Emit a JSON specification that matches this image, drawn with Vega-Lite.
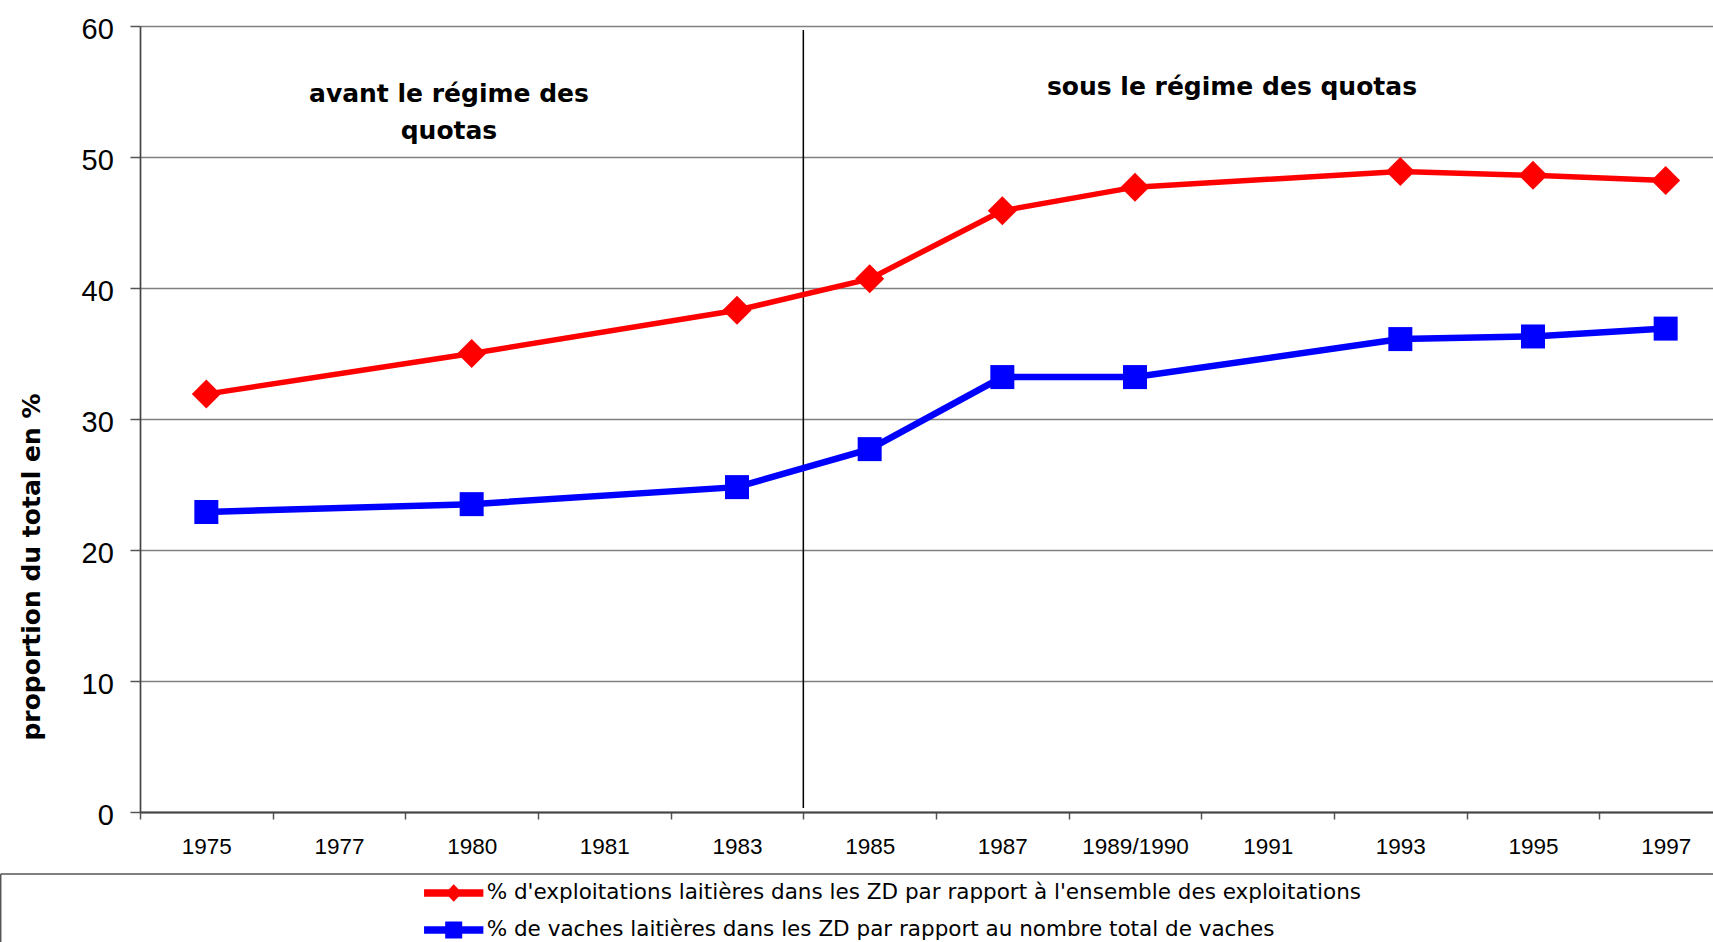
{
  "$schema": "https://vega.github.io/schema/vega-lite/v6.json",
  "width": 1573,
  "height": 786,
  "autosize": {"type": "none"},
  "padding": {"left": 140, "top": 26, "right": 0, "bottom": 130},
  "background": "white",
  "config": {"view": {"stroke": null}, "font": "Liberation Sans"},
  "datasets": {
    "main": [
      {"year": "1975", "k": "a", "series": "% d'exploitations laitières dans les ZD par rapport à l'ensemble des exploitations", "value": 31.9},
      {"year": "1980", "k": "a", "series": "% d'exploitations laitières dans les ZD par rapport à l'ensemble des exploitations", "value": 35.0},
      {"year": "1983", "k": "a", "series": "% d'exploitations laitières dans les ZD par rapport à l'ensemble des exploitations", "value": 38.3},
      {"year": "1985", "k": "a", "series": "% d'exploitations laitières dans les ZD par rapport à l'ensemble des exploitations", "value": 40.7},
      {"year": "1987", "k": "a", "series": "% d'exploitations laitières dans les ZD par rapport à l'ensemble des exploitations", "value": 45.9},
      {"year": "1989/1990", "k": "a", "series": "% d'exploitations laitières dans les ZD par rapport à l'ensemble des exploitations", "value": 47.7},
      {"year": "1993", "k": "a", "series": "% d'exploitations laitières dans les ZD par rapport à l'ensemble des exploitations", "value": 48.9},
      {"year": "1995", "k": "a", "series": "% d'exploitations laitières dans les ZD par rapport à l'ensemble des exploitations", "value": 48.6},
      {"year": "1997", "k": "a", "series": "% d'exploitations laitières dans les ZD par rapport à l'ensemble des exploitations", "value": 48.2},
      {"year": "1975", "k": "b", "series": "% de vaches laitières dans les ZD par rapport au nombre total de vaches", "value": 22.9},
      {"year": "1980", "k": "b", "series": "% de vaches laitières dans les ZD par rapport au nombre total de vaches", "value": 23.5},
      {"year": "1983", "k": "b", "series": "% de vaches laitières dans les ZD par rapport au nombre total de vaches", "value": 24.8},
      {"year": "1985", "k": "b", "series": "% de vaches laitières dans les ZD par rapport au nombre total de vaches", "value": 27.7},
      {"year": "1987", "k": "b", "series": "% de vaches laitières dans les ZD par rapport au nombre total de vaches", "value": 33.2},
      {"year": "1989/1990", "k": "b", "series": "% de vaches laitières dans les ZD par rapport au nombre total de vaches", "value": 33.2},
      {"year": "1993", "k": "b", "series": "% de vaches laitières dans les ZD par rapport au nombre total de vaches", "value": 36.1},
      {"year": "1995", "k": "b", "series": "% de vaches laitières dans les ZD par rapport au nombre total de vaches", "value": 36.3},
      {"year": "1997", "k": "b", "series": "% de vaches laitières dans les ZD par rapport au nombre total de vaches", "value": 36.9}
    ]
  },
  "encoding": {
    "x": {
      "field": "year", "type": "ordinal",
      "scale": {"domain": ["1975", "1977", "1980", "1981", "1983", "1985", "1987", "1989/1990", "1991", "1993", "1995", "1997"], "range": [0, 1592], "paddingInner": 0, "paddingOuter": 0},
      "axis": {"title": null, "labelAngle": 0, "tickBand": "extent", "tickSize": 7, "tickColor": "#555555", "tickWidth": 1.5, "domainColor": "#444444", "domainWidth": 2, "labelFont": "Liberation Sans", "labelFontSize": 22.5, "labelColor": "black", "labelPadding": 16, "labelBaseline": "top", "grid": false}
    },
    "y": {
      "field": "value", "type": "quantitative",
      "scale": {"domain": [0, 60], "nice": false, "zero": true},
      "axis": {"title": "proportion du total en %", "values": [0, 10, 20, 30, 40, 50, 60], "grid": true, "gridColor": "#808080", "gridWidth": 1.5, "tickSize": 10, "tickColor": "#555555", "tickWidth": 1.5, "domainColor": "#444444", "domainWidth": 1.7, "labelFont": "Liberation Sans", "labelFontSize": 29, "labelColor": "black", "labelPadding": 16.7, "labelOffset": 3, "titleFont": "DejaVu Sans", "titleFontSize": 25, "titleFontWeight": "bold", "titleColor": "black", "titleAngle": -90, "titleX": -109, "titleY": 540.5, "titleAlign": "center", "titleBaseline": "middle"}
    }
  },
  "layer": [
    {
      "data": {"values": [{"year": "1975", "value": -4.73, "value2": -15}]},
      "mark": {"type": "rule", "color": "#555555", "strokeWidth": 1.5},
      "encoding": {
        "x": {"field": "year", "type": "ordinal", "bandPosition": -1.05, "scale": {"domain": ["1975", "1977", "1980", "1981", "1983", "1985", "1987", "1989/1990", "1991", "1993", "1995", "1997"], "range": [0, 1592], "paddingInner": 0, "paddingOuter": 0}},
        "y2": {"field": "value2"}
      }
    },
    {
      "data": {"values": [{"year": "1975", "value": -4.73}]},
      "mark": {"type": "rule", "color": "#555555", "strokeWidth": 1.5},
      "encoding": {
        "x": {"field": "year", "type": "ordinal", "bandPosition": -1.05, "scale": {"domain": ["1975", "1977", "1980", "1981", "1983", "1985", "1987", "1989/1990", "1991", "1993", "1995", "1997"], "range": [0, 1592], "paddingInner": 0, "paddingOuter": 0}},
        "x2": {"value": "width"}
      }
    },
    {
      "data": {"values": [{"year": "1985", "value": 59.7, "value2": 0.3}]},
      "mark": {"type": "rule", "color": "black", "strokeWidth": 1.5},
      "encoding": {
        "x": {"field": "year", "type": "ordinal", "bandPosition": 0, "scale": {"domain": ["1975", "1977", "1980", "1981", "1983", "1985", "1987", "1989/1990", "1991", "1993", "1995", "1997"], "range": [0, 1592], "paddingInner": 0, "paddingOuter": 0}},
        "y2": {"field": "value2"}
      }
    },
    {
      "data": {"values": [{"year": "1980", "value": 54.22, "label": "avant le régime des\nquotas"}]},
      "mark": {"type": "text", "font": "DejaVu Sans", "fontWeight": "bold", "fontSize": 25, "align": "center", "baseline": "alphabetic", "dx": -22.7, "lineBreak": "\n", "lineHeight": 37, "color": "black"},
      "encoding": {"text": {"field": "label"}}
    },
    {
      "data": {"values": [{"year": "1991", "value": 54.72, "label": "sous le régime des quotas"}]},
      "mark": {"type": "text", "font": "DejaVu Sans", "fontWeight": "bold", "fontSize": 25, "align": "center", "baseline": "alphabetic", "dx": -35.7, "color": "black"},
      "encoding": {"text": {"field": "label"}}
    },
    {
      "data": {"name": "main"},
      "transform": [{"filter": "datum.k === 'a'"}],
      "mark": {"type": "line", "color": "#FF0000", "strokeWidth": 5.5}
    },
    {
      "data": {"name": "main"},
      "transform": [{"filter": "datum.k === 'b'"}],
      "mark": {"type": "line", "color": "#0000FF", "strokeWidth": 6.5}
    },
    {
      "data": {"name": "main"},
      "transform": [{"filter": "datum.k === 'a'"}],
      "mark": {"type": "point", "shape": "diamond", "filled": true, "color": "#FF0000", "size": 841, "opacity": 1, "strokeWidth": 0}
    },
    {
      "data": {"name": "main"},
      "transform": [{"filter": "datum.k === 'b'"}],
      "mark": {"type": "point", "shape": "square", "filled": true, "color": "#0000FF", "size": 576, "opacity": 1, "strokeWidth": 0}
    },
    {
      "data": {"name": "main"},
      "transform": [{"filter": "false"}],
      "mark": {"type": "point", "filled": true, "opacity": 1, "strokeWidth": 0},
      "encoding": {
        "color": {
          "field": "series", "type": "nominal",
          "scale": {"domain": ["% d'exploitations laitières dans les ZD par rapport à l'ensemble des exploitations", "% de vaches laitières dans les ZD par rapport au nombre total de vaches"], "range": ["#FF0000", "#0000FF"]},
          "legend": {"orient": "none", "legendX": 298.7, "legendY": 852, "direction": "vertical", "title": null, "symbolSize": 900, "symbolStrokeWidth": 0, "symbolOffset": 0, "symbolOpacity": 1, "labelOffset": 18, "labelFont": "DejaVu Sans", "labelFontSize": 21.5, "labelColor": "black", "labelLimit": 1500, "rowPadding": 11, "padding": 0}
        },
        "shape": {
          "field": "series", "type": "nominal",
          "scale": {"domain": ["% d'exploitations laitières dans les ZD par rapport à l'ensemble des exploitations", "% de vaches laitières dans les ZD par rapport au nombre total de vaches"], "range": ["M-1.977,-0.243H1.977V0.243H-1.977Z M-0.557,0L0,-0.59L0.557,0L0,0.59Z", "M-1.977,-0.257H1.977V0.257H-1.977Z M-0.567,-0.567H0.567V0.567H-0.567Z"]},
          "legend": {"orient": "none", "legendX": 298.7, "legendY": 852, "direction": "vertical", "title": null, "symbolSize": 900, "symbolStrokeWidth": 0, "symbolOffset": 0, "symbolOpacity": 1, "labelOffset": 18, "labelFont": "DejaVu Sans", "labelFontSize": 21.5, "labelColor": "black", "labelLimit": 1500, "rowPadding": 11, "padding": 0}
        }
      }
    }
  ]
}
